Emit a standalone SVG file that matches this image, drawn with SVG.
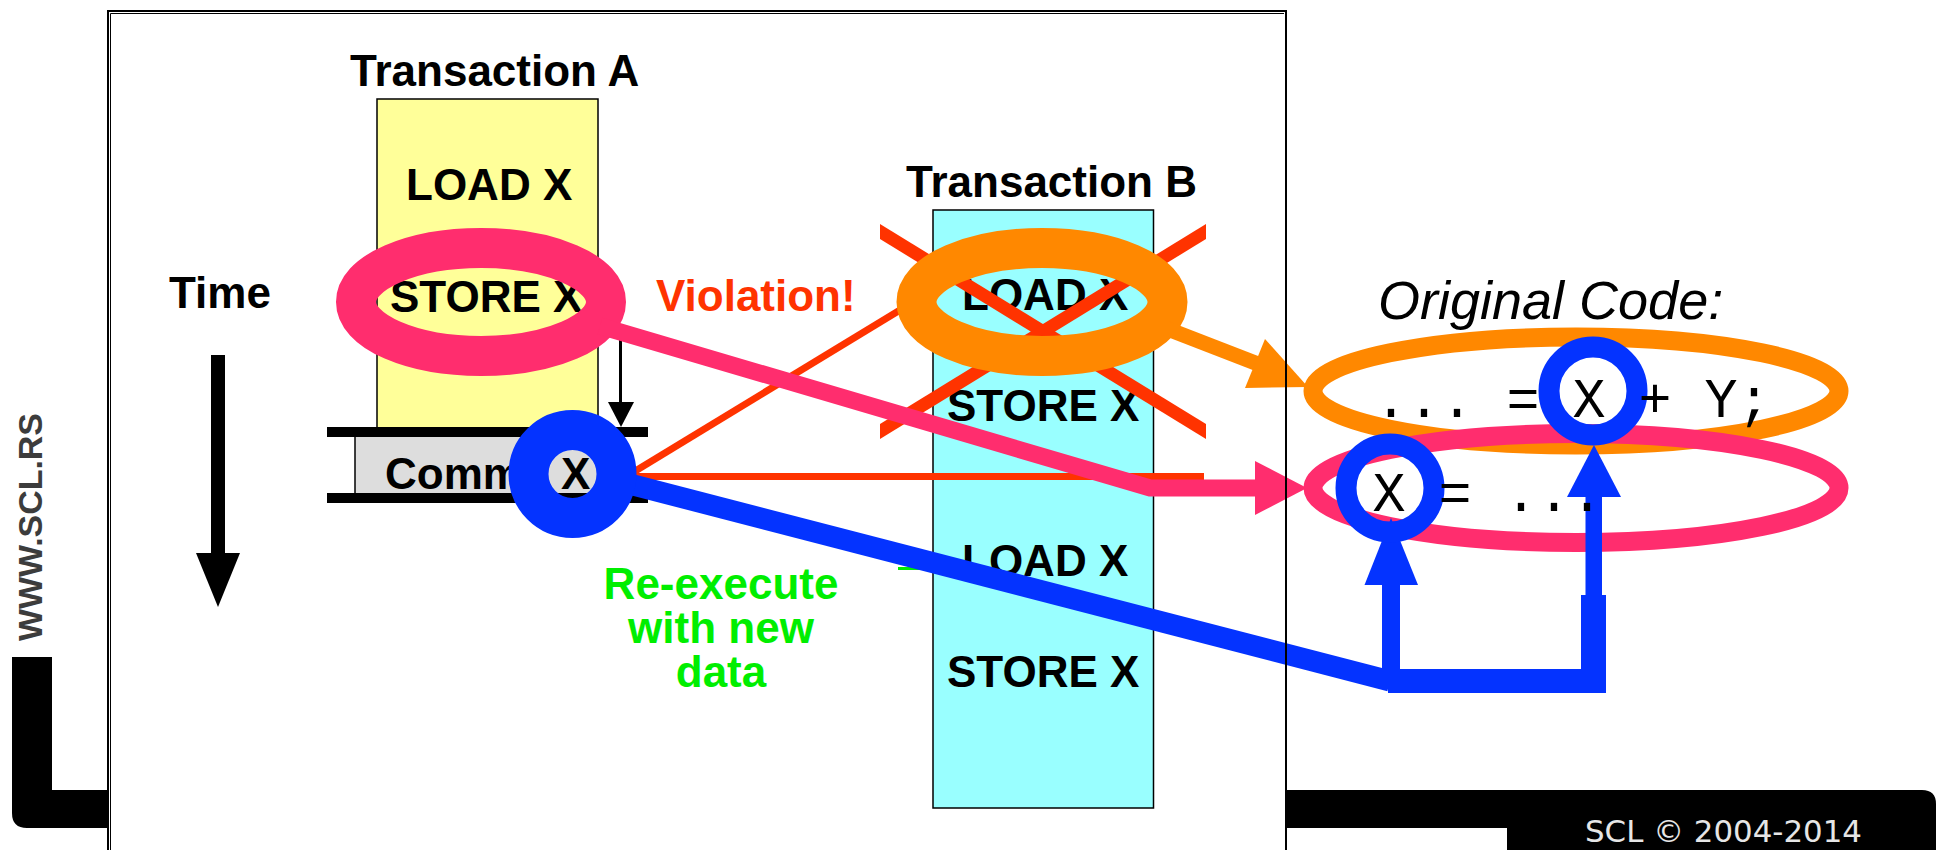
<svg xmlns="http://www.w3.org/2000/svg" width="1936" height="850" viewBox="0 0 1936 850">
  <style>
    .lbl { font-family: "Liberation Sans", Arial, sans-serif; font-weight: bold; font-size: 44px; fill: #000; }
    .viol { fill: #FF3300; }
    .green { fill: #00EE00; text-anchor: middle; }
    .code { font-family: "Liberation Mono", "Courier New", monospace; font-size: 55px; fill: #000; white-space: pre; }
    .orig { font-family: "Liberation Sans", Arial, sans-serif; font-style: italic; font-size: 54px; fill: #000; }
    .box { stroke: #000; stroke-width: 1.5; }
    .ringA { fill: none; stroke: #FF2D6E; }
    .ringB { fill: none; stroke: #FF8800; }
    .ringX { fill: none; stroke: #0433FF; }
    .red { fill: #FF3300; }
  </style>

  <!-- page background -->
  <rect x="0" y="0" width="1936" height="850" fill="#fff"/>

  <!-- slide template: black L-bar with footer and vertical logo -->
  <g id="template">
    <path d="M12,657 H52 V790 H1922 Q1936,790 1936,804 V850 H1507 V828 H27 Q12,828 12,813 Z" fill="#000"/>
    <text x="0" y="0" transform="translate(42,641) rotate(-90)" font-family="'Liberation Sans', Arial, sans-serif" font-weight="bold" font-size="34" fill="#3c3c3c" textLength="228" lengthAdjust="spacingAndGlyphs">WWW.SCL.RS</text>
    <text x="1585" y="842" font-family="'DejaVu Sans', Verdana, sans-serif" font-size="30" fill="#e6e6e6" textLength="277" lengthAdjust="spacingAndGlyphs">SCL © 2004-2014</text>
  </g>

  <!-- slide area -->
  <rect id="slide-bg" x="108" y="11" width="1178" height="860" fill="#fff"/>

  <!-- time axis -->
  <g id="time">
    <text class="lbl" x="169" y="308">Time</text>
    <rect x="211" y="355" width="14" height="200" fill="#000"/>
    <polygon points="196,553 240,553 218,607" fill="#000"/>
  </g>

  <!-- transaction A -->
  <g id="txA">
    <text class="lbl" x="350" y="86">Transaction A</text>
    <rect class="box" x="377" y="99" width="221" height="330" fill="#FFFF99"/>
    <text class="lbl" x="406" y="200">LOAD X</text>
    <text class="lbl" x="390" y="312">STORE X</text>
  </g>

  <!-- commit stage -->
  <g id="commit">
    <rect class="box" x="355" y="435" width="265" height="60" fill="#DDDDDD"/>
    <rect x="327" y="427" width="321" height="10" fill="#000"/>
    <rect x="327" y="493" width="321" height="10" fill="#000"/>
    <text class="lbl" x="385" y="489">Commit X</text>
  </g>

  <!-- transaction B -->
  <g id="txB">
    <text class="lbl" x="906" y="197">Transaction B</text>
    <rect class="box" x="933" y="210" width="220.5" height="598" fill="#99FFFF"/>
    <text class="lbl" x="962" y="310">LOAD X</text>
    <text class="lbl" x="947" y="421">STORE X</text>
    <text class="lbl" x="962" y="576">LOAD X</text>
    <text class="lbl" x="947" y="687">STORE X</text>
  </g>

  <!-- labels -->
  <g id="labels">
    <text class="lbl viol" x="656" y="311">Violation!</text>
    <text class="lbl green" x="721" y="599">Re-execute</text>
    <text class="lbl green" x="721" y="643">with new</text>
    <text class="lbl green" x="721" y="687">data</text>
  </g>

  <!-- connectors and highlights -->
  <g id="connectors">
    <!-- store-to-commit arrow -->
    <line x1="620.5" y1="335" x2="620.5" y2="404" stroke="#000" stroke-width="3"/>
    <polygon points="608,402 634,402 621,427" fill="#000"/>

    <!-- abort cross over transaction B -->
    <polygon class="red" points="880,224 1206,424 1206,439 880,239"/>
    <polygon class="red" points="1206,224 880,424 880,439 1206,239"/>

    <!-- green pointer (mostly hidden) -->
    <line x1="898" y1="568.5" x2="932" y2="568.5" stroke="#00EE00" stroke-width="3"/>

    <!-- violation lines -->
    <line x1="632" y1="473" x2="905" y2="307" stroke="#FF3300" stroke-width="7"/>
    <line x1="632" y1="476.5" x2="1204" y2="476.5" stroke="#FF3300" stroke-width="7"/>

    <!-- load highlight in B and its arrow -->
    <ellipse class="ringB" cx="1042" cy="302" rx="125.5" ry="54" stroke-width="40"/>
    <line x1="1165" y1="328" x2="1258" y2="364" stroke="#FF8800" stroke-width="15"/>
    <polygon points="1265,339 1245,388 1308,387" fill="#FF8800"/>

    <!-- store highlight in A and its arrow -->
    <ellipse class="ringA" cx="481" cy="302" rx="125" ry="54" stroke-width="40"/>
    <polyline points="600,326 1150,488 1258,488" fill="none" stroke="#FF2D6E" stroke-width="17"/>
    <polygon points="1255,461 1255,515 1307,488" fill="#FF2D6E"/>

    <!-- commit value forwarding -->
    <line x1="610" y1="479" x2="1390" y2="681" stroke="#0433FF" stroke-width="21"/>
    <circle class="ringX" cx="572.5" cy="474" r="44" stroke-width="40"/>
  </g>

  <!-- original code -->
  <g id="code">
    <text class="orig" x="1378" y="319">Original Code:</text>
    <ellipse class="ringB" cx="1576" cy="391" rx="263" ry="54" stroke-width="19"/>
    <ellipse class="ringA" cx="1576" cy="488" rx="263" ry="54.5" stroke-width="19"/>

    <g fill="#0433FF">
      <rect x="1388" y="669" width="218" height="24"/>
      <rect x="1581" y="595" width="25" height="98"/>
      <rect x="1585.5" y="495" width="16.5" height="102"/>
      <polygon points="1567,497 1621,497 1594,445"/>
      <rect x="1382" y="583" width="18" height="90"/>
      <polygon points="1364.5,585 1418,585 1391,518"/>
    </g>
    <circle class="ringX" cx="1593" cy="391" r="44" stroke-width="21"/>
    <circle class="ringX" cx="1390" cy="488" r="44" stroke-width="21"/>

    <text class="code" x="1374.5" y="417">... = X + Y;</text>
    <text class="code" x="1372.5" y="511">X = ...</text>
  </g>

  <!-- slide border -->
  <g id="frame" fill="none" stroke="#000">
    <rect x="108" y="11" width="1178" height="860" stroke-width="2"/>
    <line x1="110.5" y1="13.5" x2="110.5" y2="850" stroke-width="1"/>
    <line x1="110.5" y1="13.5" x2="1284" y2="13.5" stroke-width="1"/>
  </g>
</svg>
